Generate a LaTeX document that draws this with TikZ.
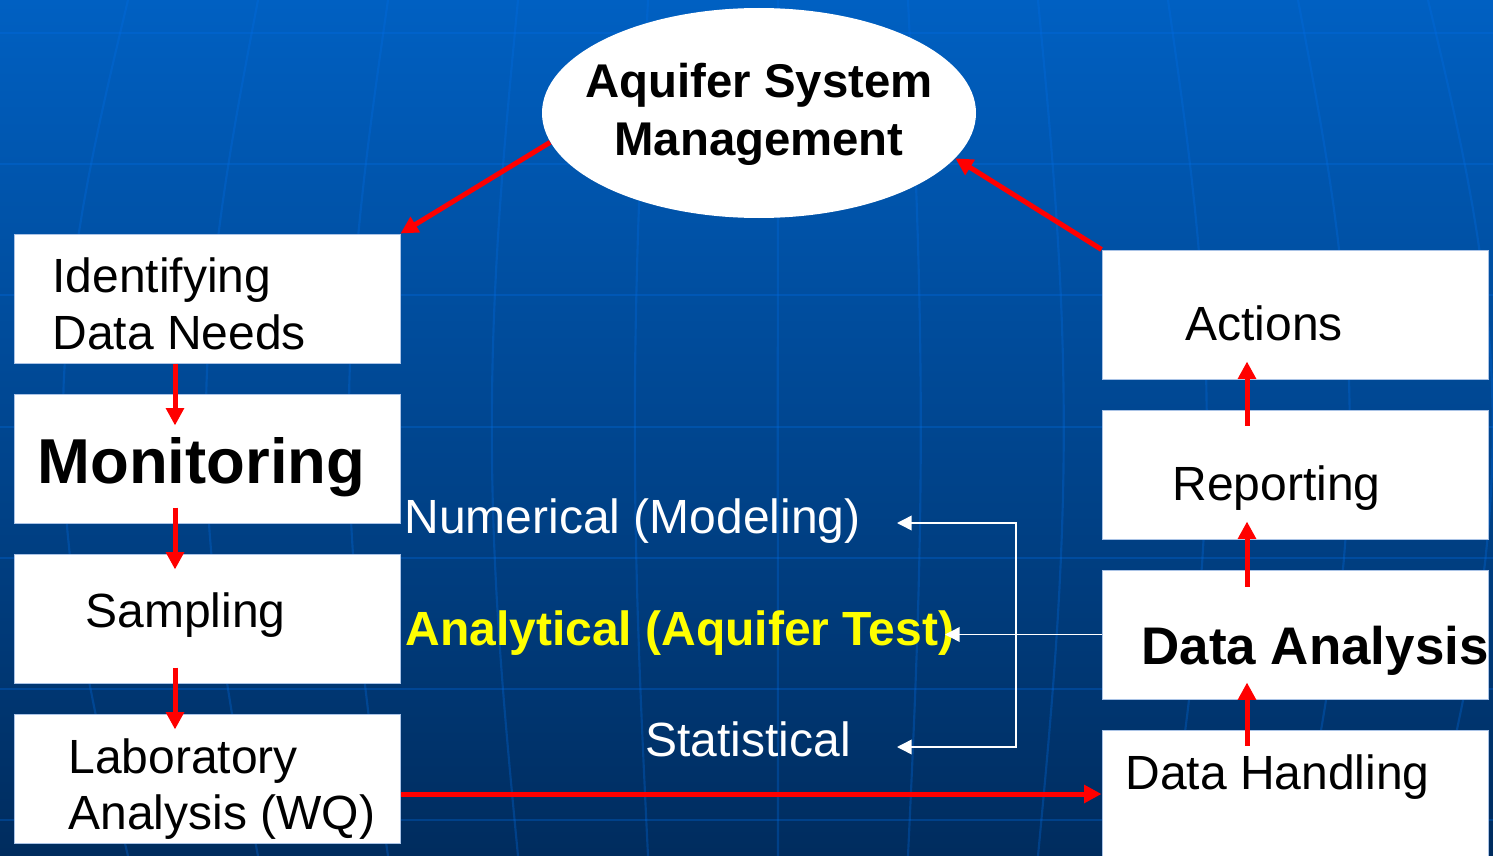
\documentclass[tikz,border=0pt]{standalone}
\usepackage{fontspec}
\setmainfont{Liberation Sans}
\usetikzlibrary{shapes.geometric,arrows.meta}

\definecolor{bgtop}{RGB}{0,96,194}
\definecolor{bgmid}{RGB}{0,78,158}
\definecolor{bgbot}{RGB}{0,44,94}
\definecolor{gridblue}{RGB}{0,110,230}
\definecolor{boxedge}{RGB}{170,195,230}
\definecolor{arrred}{RGB}{255,0,0}
\definecolor{textyel}{RGB}{255,255,0}

\tikzset{every picture/.style={line width=0.75pt}}
\tikzset{
  box/.style={draw=boxedge, fill=white, minimum width=289.5pt, minimum height=96.75pt, inner sep=0pt},
  redarr/.style={draw=arrred, line width=3.75pt, -{Triangle[length=13pt,width=13pt]}},
  whitearr/.style={draw=white, line width=1.1pt, -{Triangle[length=11pt,width=11pt]}},
  txt/.style={inner sep=0pt, font=\fontsize{36}{42.75}\selectfont},
  gridline/.style={draw=gridblue, draw opacity=0.3}
}

\begin{document}
\begin{tikzpicture}[x=0.75pt,y=0.75pt,yscale=-1]
\useasboundingbox (0,0) rectangle (1493,856);

%Background
\shade[top color=bgtop, middle color=bgmid, bottom color=bgbot] (0,0) rectangle (1493,856);
\foreach \gy in {33,164,295,427,558,689,820}
  \draw[gridline, line width=2.2pt] (0,\gy) -- (1493,\gy);
\foreach \mx in {-2,128,...,1558}
  \draw[gridline, line width=1.6pt] plot[variable=\t, domain=0:856, samples=30] ({780+(\mx-780)*(1+0.1*sin(0.2103*\t))}, {\t});

%Ellipse
\node[ellipse, fill=white, minimum width=325.5pt, minimum height=157.5pt, inner sep=0pt] (asm) at (759,113) {};

%Left column
\node[box] (ident) at (207,298.5) {};
\node[box] (mon) at (207,458.5) {};
\node[box] (samp) at (207,618.5) {};
\node[box] (lab) at (207,778.5) {};

%Right column
\node[box] (act) at (1295,314.5) {};
\node[box] (rep) at (1295,474.5) {};
\node[box] (dana) at (1295,634.5) {};
\node[box] (dhand) at (1295,794.5) {};

% Text Node
\node[txt, anchor=north, align=center, font=\fontsize{35.5}{43.5}\selectfont\bfseries] (asmtxt) at (759,63) {Aquifer System\\Management};
\node[txt, anchor=north west, align=left] (identtxt) at (52,257) {Identifying\\Data Needs};
\node[txt, anchor=base west, font=\fontsize{47.6}{50}\selectfont\bfseries] (montxt) at (37,483) {Monitoring};
\node[txt, anchor=base west] (samptxt) at (85,627) {Sampling};
\node[txt, anchor=north west, align=left, font=\fontsize{36}{42}\selectfont] (labtxt) at (68,738) {Laboratory\\Analysis (WQ)};
\node[txt, anchor=base west] (acttxt) at (1185,340) {Actions};
\node[txt, anchor=base west] (reptxt) at (1172,500) {Reporting};
\node[txt, anchor=base west, font=\fontsize{39.7}{44}\selectfont\bfseries] (danatxt) at (1141,664) {Data Analysis};
\node[txt, anchor=base west] (dhandtxt) at (1125,789) {Data Handling};
\node[txt, anchor=base west, text=white] (numtxt) at (404,533) {Numerical (Modeling)};
\node[txt, anchor=base west, text=textyel, font=\fontsize{36}{42.75}\selectfont\bfseries] (analtxt) at (405,645) {Analytical (Aquifer Test)};
\node[txt, anchor=base west, text=white] (stattxt) at (645,756) {Statistical};

%Method branches
\coordinate (split) at (1016,634.5);
\coordinate (numtip) at (897,523);
\coordinate (analtip) at (945,634.5);
\coordinate (stattip) at (897,747);
\draw[whitearr] (split) |- (numtip);
\draw[whitearr] (split) |- (stattip);
\draw[whitearr] (dana.west) -- (analtip);

%Red arrows
\coordinate (lx) at (175,0);
\coordinate (rx) at (1247,0);
\coordinate (ly) at (0,794);
\draw[redarr] (asm.188) -- (ident.north east);
\draw[redarr] (act.north west) -- (asm.-13);
\draw[redarr] (ident.south -| lx) -- ++(0,62);
\draw[redarr] (mon.south -| lx) ++(0,-16) -- ++(0,62);
\draw[redarr] (samp.south -| lx) ++(0,-16) -- ++(0,62);
\draw[redarr] (lab.east |- ly) -- (dhand.west |- ly);
\draw[redarr] (dhand.north -| rx) ++(0,16) -- ++(0,-63);
\draw[redarr] (dana.north -| rx) ++(0,17) -- ++(0,-65);
\draw[redarr] (rep.north -| rx) ++(0,16) -- ++(0,-64);

\end{tikzpicture}
\end{document}
